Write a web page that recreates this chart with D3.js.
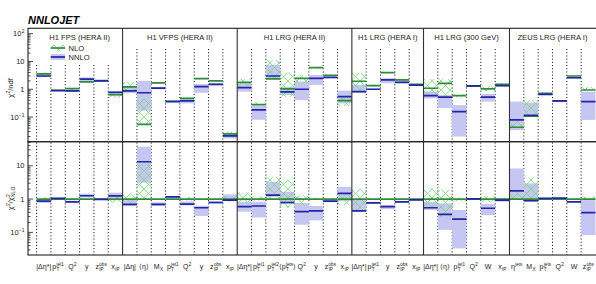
<!DOCTYPE html>
<html><head><meta charset="utf-8">
<script src="https://cdn.jsdelivr.net/npm/d3@7"></script>
<style>body{margin:0;background:#fff} text{font-family:"Liberation Sans",Arial,sans-serif;fill:#222}</style>
</head><body><svg id="c" width="596" height="284"></svg>
<script>
const groupNames = ["H1 FPS (HERA II)","H1 VFPS (HERA II)","H1 LRG (HERA II)","H1 LRG (HERA I)","H1 LRG (300 GeV)","ZEUS LRG (HERA I)"];
const groupSizes = [6,8,8,5,6,6];
const categories = [
 "|Δη*|","p_{T}^{jet1}","Q^{2}","y","z_{IP}^{obs}","x_{IP}",
 "|Δη|","⟨η⟩","M_{X}","p_{T}^{jet1}","Q^{2}","y","z_{IP}^{obs}","x_{IP}",
 "|Δη*|","p_{T}^{jet1}","p_{T}^{jet2}","⟨p_{T}^{jets}⟩","Q^{2}","y","z_{IP}^{obs}","x_{IP}",
 "|Δη*|","p_{T}^{jet1}","y","z_{IP}^{obs}","x_{IP}",
 "|Δη*|","⟨η⟩","p_{T}^{jet1}","Q^{2}","W","x_{IP}",
 "η^{jets}","M_{X}","p_{T}^{jets}","Q^{2}","W","z_{IP}^{obs}"];
// chi2/ndf (top panel)
const nlo  = [3.6,0.92,1.05,1.83,2.05,0.64, 1.22,0.055,1.7,0.37,0.47,2.4,2.0,0.025, 1.78,0.28,2.35,1.03,2.48,6.0,3.2,0.39, 1.94,1.35,3.96,2.16,1.5, 1.09,1.64,0.59,1.3,1.03,1.5, 0.043,0.109,0.72,0.38,3.0,0.94];
const nloLo = [3.3,0.88,0.95,1.75,1.95,0.5, 0.85,0.055,1.6,0.35,0.44,2.3,1.9,0.02, 1.3,0.26,2.5,0.54,1.6,5.6,3.0,0.25, 0.82,1.25,3.8,2.0,1.4, 0.62,0.5,0.5,1.25,0.85,1.35, 0.04,0.1,0.68,0.37,2.85,0.9];
const nloHi = [4.0,0.96,1.15,1.9,2.15,0.8, 1.8,0.45,1.8,0.39,0.52,2.5,2.1,0.03, 2.4,0.34,11,3.95,3.2,6.4,3.4,0.6, 3.85,1.45,4.1,2.3,1.6, 2.3,2.3,0.65,1.35,1.3,1.65, 0.08,0.4,0.78,0.39,3.2,1.2];
const nnlo = [3.0,0.9,0.87,2.3,2.0,0.78, 0.88,0.75,1.1,0.36,0.38,1.25,1.5,0.021, 1.14,0.18,3.0,0.8,1.0,2.48,2.7,0.54, 0.82,1.0,2.16,1.78,1.4, 0.59,0.52,0.156,1.32,0.52,1.35, 0.079,0.115,0.66,0.38,2.6,0.36];
const nnloLo = [2.7,0.85,0.8,1.83,1.9,0.59, 0.72,0.17,1.0,0.34,0.31,0.75,1.4,0.017, 0.82,0.08,2.35,0.62,0.41,1.43,2.5,0.31, 0.75,0.95,1.64,1.7,1.35, 0.47,0.21,0.02,1.25,0.36,1.25, 0.034,0.1,0.62,0.36,2.4,0.079];
const nnloHi = [3.5,0.95,0.95,2.7,2.1,0.87, 1.24,2.0,1.2,0.38,0.44,1.55,1.65,0.025, 1.64,0.25,7.5,1.24,1.9,3.27,2.9,0.89, 1.43,1.05,2.5,2.1,1.5, 0.82,0.62,0.27,1.4,0.68,1.5, 0.36,0.33,0.7,0.4,2.8,0.82];
// chi2 / chi2_NLO (bottom panel)
const ratio = [0.87,1.05,0.83,1.26,0.98,1.25, 0.69,13.2,0.69,1.17,0.71,0.55,0.79,0.93, 0.59,0.62,1.32,0.79,0.42,0.44,0.87,1.48, 0.44,0.77,0.59,0.83,0.95, 0.55,0.35,0.25,1.02,0.53,0.93, 1.77,0.89,1.05,1.07,0.83,0.39];
const ratioLo = [0.77,1.0,0.78,1.12,0.94,1.05, 0.62,3.1,0.62,1.1,0.65,0.31,0.72,0.87, 0.42,0.28,1.17,0.71,0.17,0.23,0.8,0.87, 0.42,0.72,0.5,0.78,0.9, 0.47,0.12,0.033,0.98,0.33,0.83, 0.98,0.83,1.0,1.03,0.78,0.083];
const ratioHi = [0.93,1.1,0.88,1.45,1.03,1.55, 0.93,37,0.8,1.22,0.85,0.63,0.87,1.38, 0.83,0.83,3.3,1.66,0.77,0.62,0.97,2.34, 0.98,0.82,0.66,0.88,1.0, 0.83,0.74,0.47,1.06,0.71,1.05, 8.3,2.96,1.1,1.1,0.88,0.93];
const nloRatioLo = [0.92,0.96,0.9,0.96,0.95,0.78, 0.7,1.0,0.94,0.95,0.9,0.95,0.95,0.85, 0.73,0.9,1.0,0.55,0.65,0.94,0.95,0.65, 0.45,0.92,0.96,0.93,0.93, 0.57,0.3,0.85,0.95,0.8,0.9, 0.93,0.9,0.95,0.97,0.95,0.95];
const nloRatioHi = [1.11,1.04,1.1,1.04,1.05,1.25, 1.5,11,1.06,1.05,1.15,1.05,1.05,1.2, 1.6,1.2,4.5,3.8,1.3,1.06,1.06,1.5, 2.0,1.08,1.04,1.07,1.07, 2.1,1.9,1.1,1.05,1.25,1.1, 1.6,4.4,1.05,1.03,1.05,1.2];
const topTicks = [100,10,1,0.1];
const botTicks = [10,1,0.1];

const svg = d3.select("#c");
const x = d3.scaleLinear().domain([-0.6, 39.1]).range([28, 596.9]);
const yTop = d3.scaleLog().domain([0.013, 156]).range([141.7, 28.3]);
const yBot = d3.scaleLog().domain([0.021, 52.7]).range([255, 141.7]);
const GREEN = "#2e8b3c", HATCH = "#72dc72", BLUE = "#2424a6", BAND = "#c6c6f3";

const defs = svg.append("defs");
const P = 9;
const pat = defs.append("pattern").attr("id","hatch").attr("patternUnits","userSpaceOnUse")
  .attr("width",P).attr("height",P);
pat.append("path").attr("d",`M0,0L${P},${P}M${P},0L0,${P}`).attr("stroke",HATCH).attr("stroke-width",0.8).attr("fill","none");
[["clipTop",yTop],["clipBot",yBot]].forEach(([id,ys])=>{
  defs.append("clipPath").attr("id",id).append("rect")
    .attr("x",x.range()[0]).attr("y",ys.range()[1]).attr("width",x.range()[1]-x.range()[0]).attr("height",ys.range()[0]-ys.range()[1]);
});

// rich text helper
function parse(s){const re=/_\{([^}]*)\}|\^\{([^}]*)\}|([^_^]+)/g;let m,out=[];while((m=re.exec(s))){if(m[1]!==undefined)out.push({t:"sub",s:m[1]});else if(m[2]!==undefined)out.push({t:"sup",s:m[2]});else out.push({t:"n",s:m[3]});}return out;}
function rich(g,s,size){const tk=parse(s);let cx=0,i=0;while(i<tk.length){if(tk[i].t==="n"){const el=g.append("text").attr("x",cx).attr("y",0).style("font-size",size+"px").text(tk[i].s);cx+=el.node().getComputedTextLength();i++;}else{let w=0;while(i<tk.length&&tk[i].t!=="n"){const el=g.append("text").attr("x",cx+0.3).attr("y",tk[i].t==="sup"?-size*0.42:size*0.3).style("font-size",(size*0.66)+"px").text(tk[i].s);w=Math.max(w,el.node().getComputedTextLength()+0.3);i++;}cx+=w;}}return cx;}

const starts=[];let acc=0;groupSizes.forEach(n=>{starts.push(acc);acc+=n;});
const boundarySet=new Set(starts.slice(1));

// dotted bin edges
for(let i=0;i<categories.length;i++){
  if(boundarySet.has(i))continue;
  const top = i<6 ? 65 : 49;
  svg.append("line").attr("x1",x(i)).attr("x2",x(i)).attr("y1",top).attr("y2",141.7)
    .attr("stroke","#111").attr("stroke-width",1).attr("stroke-dasharray","1.1,2.1");
  svg.append("line").attr("x1",x(i)).attr("x2",x(i)).attr("y1",142.5).attr("y2",255)
    .attr("stroke","#111").attr("stroke-width",1).attr("stroke-dasharray","1.1,2.1");
}

function panel(ys, clip, lo1, hi1, lo2, hi2, v1, v2){
  const g=svg.append("g").attr("clip-path",`url(#${clip})`);
  const idx=d3.range(categories.length);
  g.selectAll(".bb").data(idx).join("rect").attr("x",i=>x(i)).attr("width",i=>x(i+1)-x(i))
    .attr("y",i=>ys(hi2[i])).attr("height",i=>ys(lo2[i])-ys(hi2[i])).attr("fill",BAND);
  g.selectAll(".hb").data(idx).join("rect").attr("x",i=>x(i)).attr("width",i=>x(i+1)-x(i))
    .attr("y",i=>ys(hi1[i])).attr("height",i=>ys(lo1[i])-ys(hi1[i])).attr("fill","url(#hatch)");
  g.selectAll(".nl").data(idx).join("line").attr("x1",i=>x(i)).attr("x2",i=>x(i+1))
    .attr("y1",i=>ys(v1(i))).attr("y2",i=>ys(v1(i))).attr("stroke",GREEN).attr("stroke-width",1.7);
  g.selectAll(".nn").data(idx).join("line").attr("x1",i=>x(i)).attr("x2",i=>x(i+1))
    .attr("y1",i=>ys(v2(i))).attr("y2",i=>ys(v2(i))).attr("stroke",BLUE).attr("stroke-width",1.7);
}
panel(yTop,"clipTop",nloLo,nloHi,nnloLo,nnloHi,i=>nlo[i],i=>nnlo[i]);
panel(yBot,"clipBot",nloRatioLo,nloRatioHi,ratioLo,ratioHi,i=>1,i=>ratio[i]);

starts.slice(1).forEach(s=>{
  svg.append("line").attr("x1",x(s)).attr("x2",x(s)).attr("y1",28.3).attr("y2",255).attr("stroke","#333").attr("stroke-width",1.1);
});
[yTop,yBot].forEach(ys=>{
  svg.append("rect").attr("x",x.range()[0]).attr("y",ys.range()[1]).attr("width",x.range()[1]-x.range()[0])
   .attr("height",ys.range()[0]-ys.range()[1]).attr("fill","none").attr("stroke","#222").attr("stroke-width",1.1);
});
function yAxis(ys, labels){
  const [d0,d1]=ys.domain();
  for(let e=-3;e<=3;e++){for(let k=1;k<10;k++){const v=k*Math.pow(10,e);if(v<d0||v>d1)continue;
    const len=k===1?5:2.5;
    svg.append("line").attr("x1",28).attr("x2",28+len).attr("y1",ys(v)).attr("y2",ys(v)).attr("stroke","#222").attr("stroke-width",0.8);}}
  labels.forEach(v=>{
    const e=Math.round(Math.log10(v));
    const s = v===1?"1":v===10?"10":"10^{"+(e<0?"−"+(-e):e)+"}";
    const g=svg.append("g");const w=rich(g,s,7.5);g.attr("transform",`translate(${24.5-w},${ys(v)+2.7})`);
  });
}
yAxis(yTop,topTicks);yAxis(yBot,botTicks);

{const g=svg.append("g");const w=rich(g,"χ^{2}/ndf",7.5);g.attr("transform",`translate(13,${88+w/2}) rotate(-90)`);}
{const g=svg.append("g");const w=rich(g,"χ^{2}/χ^{2}_{NLO}",7.5);g.attr("transform",`translate(13,${198.5+w/2}) rotate(-90)`);}

groupNames.forEach((n,k)=>{
  svg.append("text").attr("x",(x(starts[k])+x(starts[k]+groupSizes[k]))/2).attr("y",39.5)
    .attr("text-anchor","middle").style("font-size","7.6px").text(n);
});
categories.forEach((c,i)=>{
  const g=svg.append("g");const w=rich(g,c,7);
  g.attr("transform",`translate(${(x(i)+x(i+1))/2-w/2},268.5)`);
});
svg.append("text").attr("x",28).attr("y",24).style("font-size","11px").style("font-weight","bold").style("font-style","italic").style("fill","#000").text("NNLOJET");
const lx0=50.7,lx1=65;
svg.append("rect").attr("x",lx0).attr("y",45).attr("width",lx1-lx0).attr("height",6).attr("fill","url(#hatch)");
svg.append("line").attr("x1",lx0).attr("x2",lx1).attr("y1",48).attr("y2",48).attr("stroke",GREEN).attr("stroke-width",1.7);
svg.append("rect").attr("x",lx0).attr("y",54).attr("width",lx1-lx0).attr("height",6).attr("fill",BAND);
svg.append("line").attr("x1",lx0).attr("x2",lx1).attr("y1",57).attr("y2",57).attr("stroke",BLUE).attr("stroke-width",1.7);
svg.append("text").attr("x",68.5).attr("y",50.8).style("font-size","7.6px").text("NLO");
svg.append("text").attr("x",68.5).attr("y",59.8).style("font-size","7.6px").text("NNLO");
</script></body></html>
